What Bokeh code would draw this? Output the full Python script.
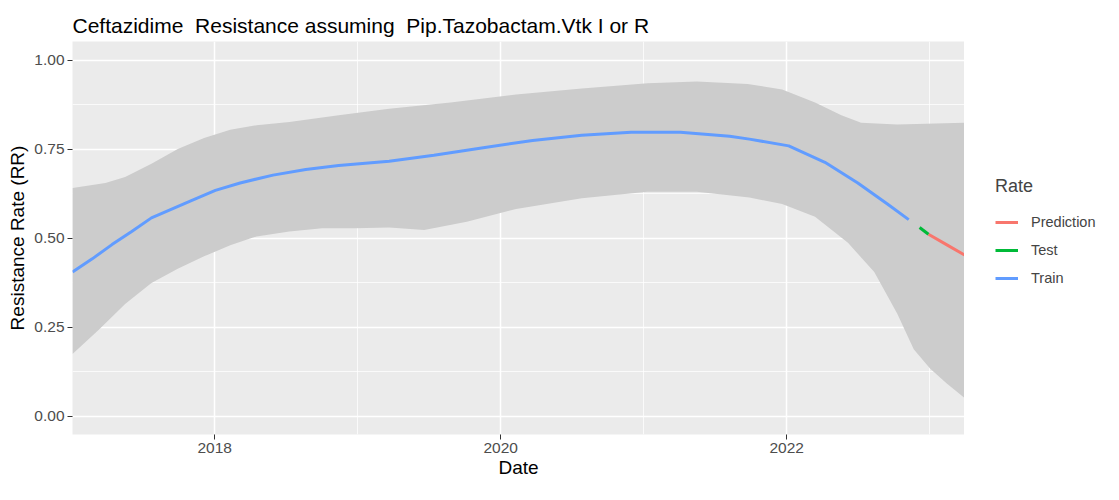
from bokeh.plotting import figure
from bokeh.layouts import row
from bokeh.models import Legend, LegendItem, FixedTicker, Range1d
from bokeh.embed import file_html
from bokeh.resources import INLINE

# ---- data (decimal years) ----
train_year = [2017.006, 2017.144, 2017.282, 2017.420, 2017.558, 2017.833, 2018.005, 2018.178,
              2018.408, 2018.637, 2018.867, 2019.220, 2019.533, 2019.878, 2020.223, 2020.567,
              2020.912, 2021.256, 2021.601, 2021.739, 2022.014, 2022.267, 2022.497, 2022.704,
              2022.853]
train_rate = [0.405, 0.442, 0.482, 0.519, 0.557, 0.605, 0.634, 0.655,
              0.677, 0.693, 0.704, 0.716, 0.733, 0.754, 0.774, 0.789,
              0.797, 0.797, 0.786, 0.778, 0.759, 0.713, 0.655, 0.596,
              0.552]
test_year = [2022.929, 2022.991]
test_rate = [0.530, 0.511]
pred_year = [2022.991, 2023.117, 2023.243]
pred_rate = [0.511, 0.482, 0.453]

upper_year = [2017.006, 2017.236, 2017.374, 2017.558, 2017.742, 2017.926, 2018.109, 2018.293,
              2018.522, 2018.867, 2019.220, 2019.649, 2020.108, 2020.567, 2021.027, 2021.371,
              2021.727, 2021.968, 2022.198, 2022.382, 2022.520, 2022.773, 2023.243]
upper_rate = [0.641, 0.655, 0.672, 0.709, 0.750, 0.781, 0.804, 0.817,
              0.826, 0.845, 0.863, 0.881, 0.903, 0.920, 0.935, 0.940,
              0.933, 0.917, 0.881, 0.845, 0.824, 0.819, 0.824]
lower_year = [2017.006, 2017.190, 2017.374, 2017.558, 2017.742, 2017.926, 2018.109, 2018.293,
              2018.522, 2018.753, 2018.982, 2019.220, 2019.465, 2019.763, 2020.108, 2020.567,
              2021.027, 2021.371, 2021.739, 2021.968, 2022.198, 2022.428, 2022.612, 2022.773,
              2022.888, 2023.002, 2023.117, 2023.243]
lower_rate = [0.175, 0.243, 0.315, 0.374, 0.414, 0.449, 0.480, 0.505,
              0.519, 0.528, 0.528, 0.530, 0.523, 0.546, 0.582, 0.612,
              0.630, 0.630, 0.614, 0.596, 0.560, 0.487, 0.405, 0.288,
              0.188, 0.134, 0.093, 0.052]

x_major = [2018, 2020, 2022]
x_minor = [2017, 2019, 2021, 2023]
y_major = [0.0, 0.25, 0.5, 0.75, 1.0]
y_minor = [0.125, 0.375, 0.625, 0.875]

series_names = ["Prediction", "Test", "Train"]
series_colors = ["#F8766D", "#00BA38", "#619CFF"]
series_years = [pred_year, test_year, train_year]
series_rates = [pred_rate, test_rate, train_rate]

FONT = "Liberation Sans"

p = figure(width=964, height=484, output_backend="svg", toolbar_location=None,
           x_range=Range1d(2017.006, 2023.243), y_range=Range1d(-0.051, 1.052),
           min_border_left=72, min_border_top=41, min_border_right=0, min_border_bottom=50)

p.background_fill_color = "#EBEBEB"
p.border_fill_color = "white"
p.outline_line_color = None

p.title.text = "Ceftazidime \u00a0Resistance assuming \u00a0Pip.Tazobactam.Vtk I or R"
p.title.text_font = FONT
p.title.text_font_size = "21px"
p.title.text_font_style = "normal"
p.title.text_color = "black"
p.title.align = "left"

# confidence band as a polygon: upper edge forward, lower edge back
p.patch(x=upper_year + lower_year[::-1], y=upper_rate + lower_rate[::-1],
        fill_color="#CCCCCC", fill_alpha=1.0, line_color=None)

for yrs, rts, color in zip(series_years, series_rates, series_colors):
    p.line(yrs, rts, line_color=color, line_width=3)

# axes
p.xaxis.ticker = FixedTicker(ticks=x_major, minor_ticks=x_minor)
p.yaxis.ticker = FixedTicker(ticks=y_major, minor_ticks=y_minor)
p.yaxis.major_label_overrides = {0.0: "0.00", 0.25: "0.25", 0.5: "0.50", 0.75: "0.75", 1.0: "1.00"}
p.xaxis.major_label_overrides = {2018: "2018", 2020: "2020", 2022: "2022"}
for ax in (p.xaxis, p.yaxis):
    ax.axis_line_color = None
    ax.major_tick_line_color = "#333333"
    ax.major_tick_line_width = 1
    ax.major_tick_in = 0
    ax.major_tick_out = 5
    ax.minor_tick_line_color = None
    ax.major_label_text_font = FONT
    ax.major_label_text_font_size = "15.5px"
    ax.major_label_text_color = "#4D4D4D"
    ax.axis_label_text_font = FONT
    ax.axis_label_text_font_size = "19px"
    ax.axis_label_text_font_style = "normal"
    ax.axis_label_text_color = "black"
p.xaxis.axis_label = "Date"
p.yaxis.axis_label = "Resistance Rate (RR)"
p.xaxis.major_label_standoff = 3
p.yaxis.major_label_standoff = 3
p.xaxis.axis_label_standoff = 1
p.yaxis.axis_label_standoff = 3

# grid
for g in (p.xgrid, p.ygrid):
    g.grid_line_color = "white"
    g.grid_line_width = 1.5
    g.minor_grid_line_color = "white"
    g.minor_grid_line_width = 0.75

# ---- legend panel (separate small figure to the right) ----
lg = figure(width=139, height=484, output_backend="svg", toolbar_location=None,
            x_range=Range1d(0, 1), y_range=Range1d(0, 1),
            min_border_left=0, min_border_right=0, min_border_top=0, min_border_bottom=0)
lg.axis.visible = False
lg.grid.visible = False
lg.outline_line_color = None
lg.background_fill_color = "white"
lg.border_fill_color = "white"
items = []
for name, color, yrs, rts in zip(series_names, series_colors, series_years, series_rates):
    # same series, lying outside this panel's ranges: only its legend key shows
    r = lg.line(x=yrs, y=rts, line_color=color, line_width=3)
    items.append(LegendItem(label=name, renderers=[r]))

legend = Legend(items=items, location=(31, 142))
legend.title = "Rate"
legend.title_text_font = FONT
legend.title_text_font_size = "18px"
legend.title_text_font_style = "normal"
legend.title_standoff = 11
legend.label_text_font = FONT
legend.label_text_font_size = "14.5px"
legend.glyph_width = 23
legend.glyph_height = 28
legend.label_height = 28
legend.spacing = 0
legend.padding = 0
legend.margin = 0
legend.label_standoff = 13
legend.border_line_color = None
legend.background_fill_alpha = 0
lg.add_layout(legend, "center")

layout = row(p, lg, spacing=0)
open("out.html", "w").write(file_html(layout, INLINE))
